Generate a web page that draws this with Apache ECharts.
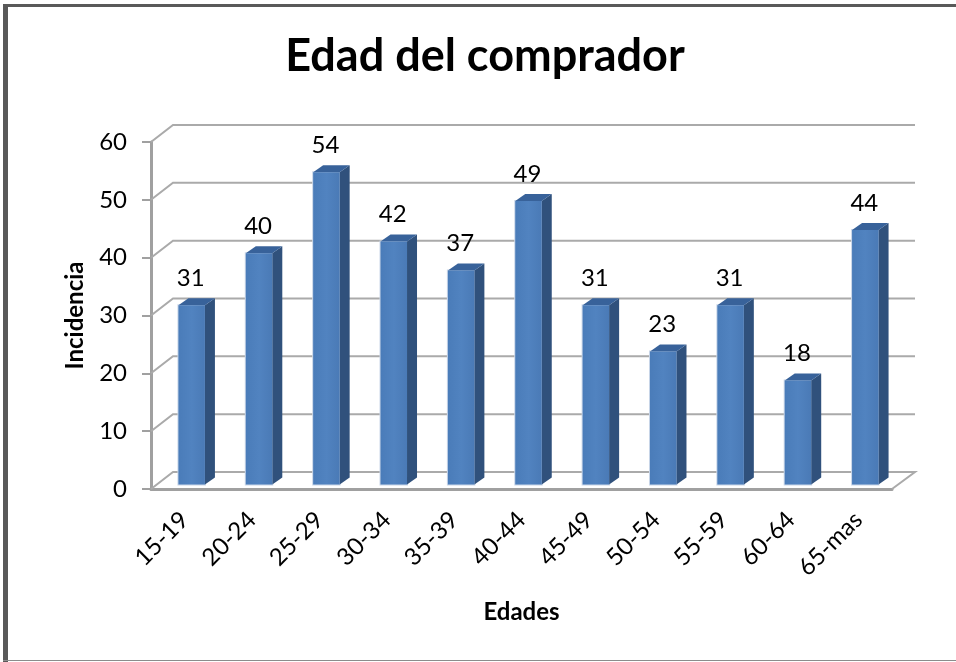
<!DOCTYPE html>
<html>
<head>
<meta charset="utf-8">
<style>
html,body{margin:0;padding:0;background:#fff;}
#chart{width:956px;height:662px;}
</style>
<script src="https://cdn.jsdelivr.net/npm/echarts@6/dist/echarts.min.js"></script>
</head>
<body>
<div id="chart"></div>
<script>
var edades = ['15-19','20-24','25-29','30-34','35-39','40-44','45-49','50-54','55-59','60-64','65-mas'];
var incidencia = [31,40,54,42,37,49,31,23,31,18,44];
var niveles = [0,10,20,30,40,50,60];

var font = 'Lato';
var wallDx = 23, wallDy = -17;     // fondo de la grafica 3D
var barDx = 7, barDy = -4.5;       // la barra no arranca en el eje
var sideDx = 10, sideDy = -7;
var barWidth = 26.5;

function poly(points, fill){
    return {type:'polygon', shape:{points:points}, style:{fill:fill, stroke:null}};
}

function renderWall(params, api){
    var rect = params.coordSys;
    var y = api.coord([0, api.value(0)])[1];
    var left = rect.x, right = rect.x + rect.width;
    var pts = [[left,y],[left+wallDx-1,y+wallDy],[right+wallDx,y+wallDy]];
    if (api.value(0) === 0) {
        pts.push([right,y]);
    }
    return {type:'polyline', shape:{points:pts}, style:{fill:null, stroke:'#aaaaaa', lineWidth:2}};
}

function renderBar(params, api){
    var top = api.coord([api.value(0), api.value(1)]);
    var base = api.coord([api.value(0), 0]);
    var x0 = top[0] + barDx - barWidth/2, x1 = x0 + barWidth;
    var yt = top[1] + barDy, yb = base[1] + barDy;
    var front = new echarts.graphic.LinearGradient(0,0,1,0,[
        {offset:0,color:'#4a7cb9'},{offset:0.5,color:'#5183c0'},{offset:1,color:'#4a7ab6'}
    ]);
    return {type:'group', children:[
        {type:'rect', shape:{x:x0-1,y:yt-1,width:barWidth+2,height:yb-yt+2}, style:{fill:'#c9d6e8'}},
        poly([[x1,yt],[x1+sideDx,yt+sideDy],[x1+sideDx,yb+sideDy],[x1,yb]], '#30517c'),
        poly([[x0,yt],[x0+sideDx,yt+sideDy],[x1+sideDx,yt+sideDy],[x1,yt]], '#38629a'),
        {type:'rect', shape:{x:x0,y:yt,width:barWidth,height:yb-yt}, style:{fill:front}},
        {type:'text', style:{
            x:(x0+x1)/2 - 1, y:yt - 27, text:String(api.value(1)),
            font:'24px '+font, fill:'#000', align:'center', verticalAlign:'middle'
        }}
    ]};
}

var chart = echarts.init(document.getElementById('chart'), null, {renderer:'canvas'});
chart.setOption({
    animation:false,
    backgroundColor:'#ffffff',
    title:{
        text:'Edad del comprador',
        left:486, top:29, textAlign:'center',
        textStyle:{fontFamily:font, fontSize:45, fontWeight:'bold', color:'#000'}
    },
    graphic:[
        {type:'rect', left:3, top:4, shape:{width:5,height:658}, style:{fill:'#595959'}},
        {type:'rect', left:3, top:4, shape:{width:953,height:3}, style:{fill:'#595959'}},
        {type:'rect', left:3, top:660, shape:{width:953,height:1}, style:{fill:'#8c8c8c'}}
    ],
    grid:{left:151, right:64, top:142, height:347},
    xAxis:{
        type:'category',
        data:edades,
        name:'Edades',
        nameLocation:'middle',
        nameGap:111,
        nameTextStyle:{fontFamily:font, fontSize:24, fontWeight:'bold', color:'#000'},
        axisTick:{show:false},
        axisLine:{lineStyle:{color:'#a0a0a0', width:3}},
        axisLabel:{rotate:45, margin:27, interval:0, fontFamily:font, fontSize:24, color:'#000'}
    },
    yAxis:{
        type:'value',
        min:0, max:60, interval:10,
        name:'Incidencia',
        nameLocation:'middle',
        nameGap:64,
        nameTextStyle:{fontFamily:font, fontSize:24, fontWeight:'bold', color:'#000'},
        splitLine:{show:false},
        axisLine:{show:true, lineStyle:{color:'#a0a0a0', width:3}},
        axisTick:{show:true, length:9, lineStyle:{color:'#a0a0a0', width:2}},
        axisLabel:{margin:24, padding:[3,0,0,0], fontFamily:font, fontSize:24, color:'#000'}
    },
    series:[
        {
            type:'custom', name:'Niveles', silent:true, clip:false, z:1,
            renderItem:renderWall,
            encode:{y:0},
            data:niveles.map(function(v){return [v];})
        },
        {
            type:'custom', name:'Incidencia', clip:false, z:3,
            renderItem:renderBar,
            encode:{x:0,y:1},
            data:incidencia.map(function(v,i){return [i,v];})
        }
    ]
});
chart.setOption({title:{left:480}});
</script>
</body>
</html>
